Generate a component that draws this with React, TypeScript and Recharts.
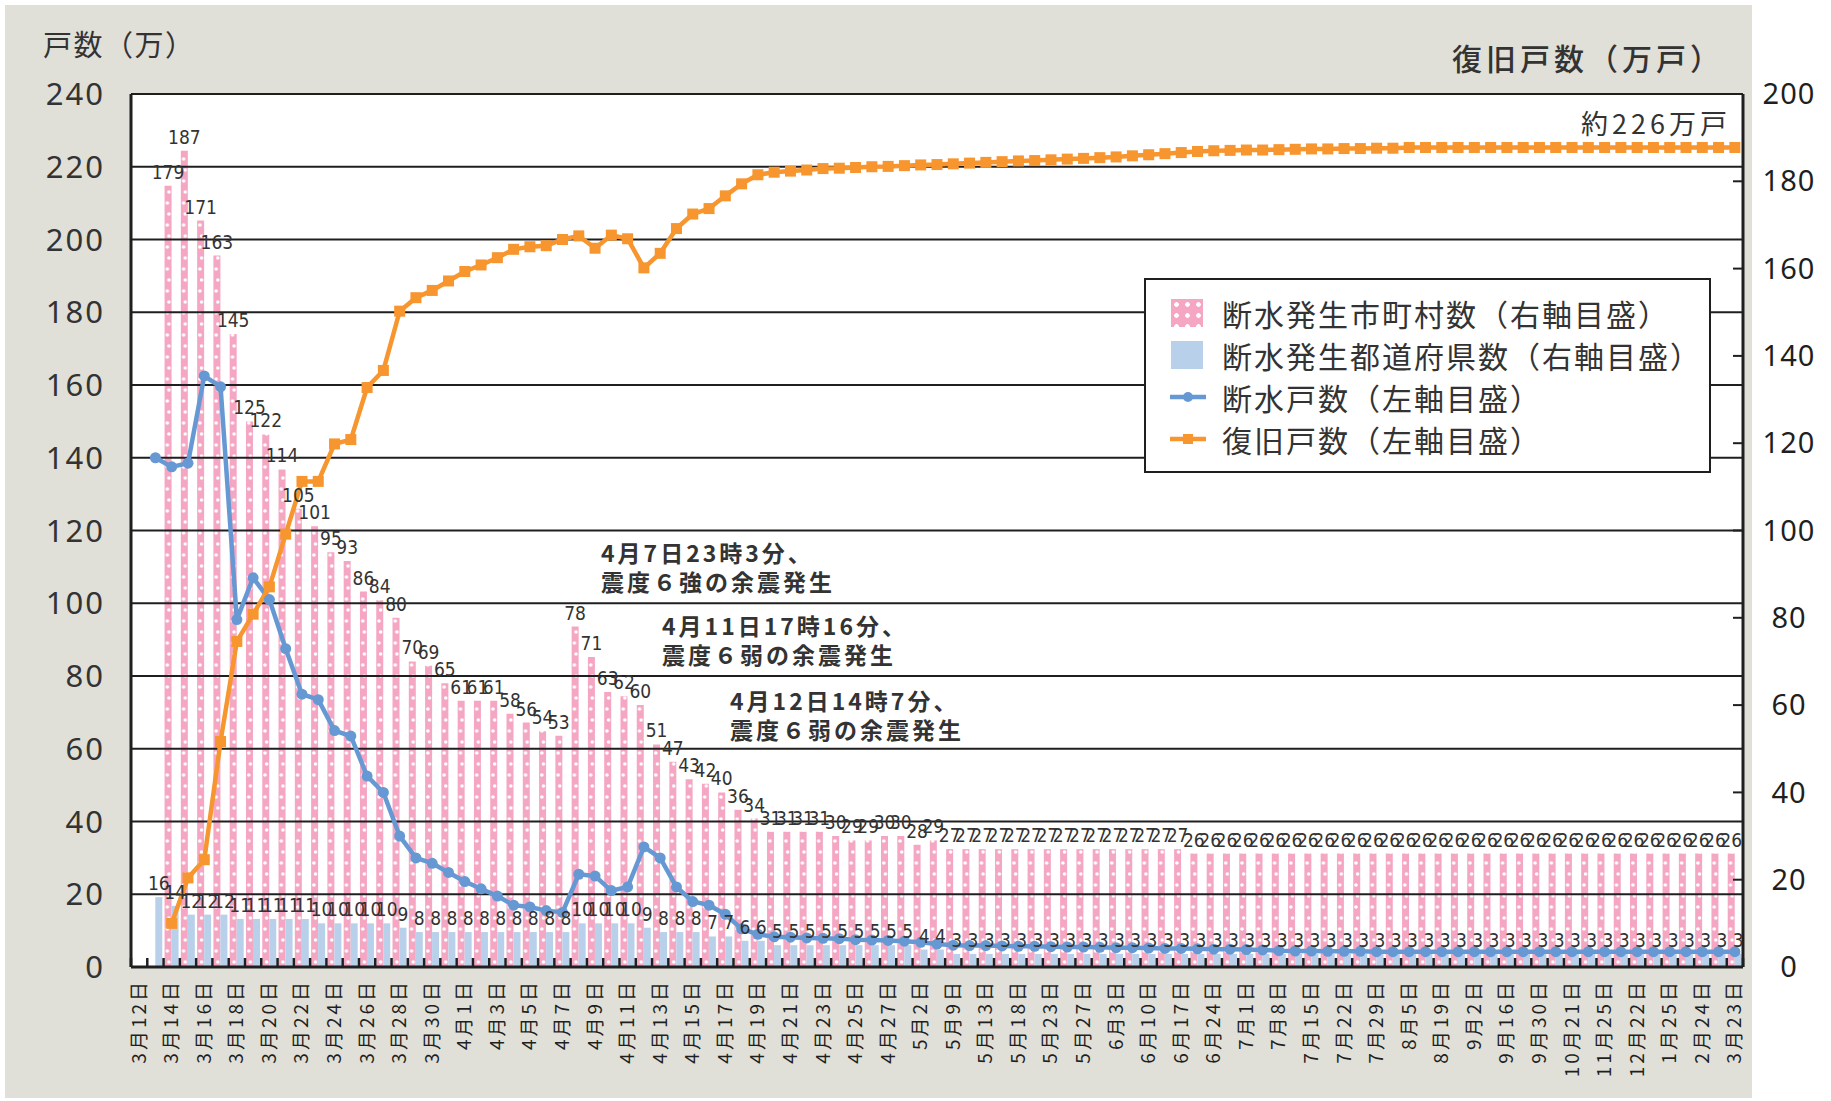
import React from "react";
import {
  ComposedChart,
  Bar,
  Line,
  XAxis,
  YAxis,
  CartesianGrid,
  LabelList,
} from "recharts";

// 99 reporting days (every other one is labelled on the axis)
const dates = [
  "3月12日", "3月13日", "3月14日", "3月15日", "3月16日", "3月17日", "3月18日", "3月19日", "3月20日", "3月21日",
  "3月22日", "3月23日", "3月24日", "3月25日", "3月26日", "3月27日", "3月28日", "3月29日", "3月30日", "3月31日",
  "4月1日", "4月2日", "4月3日", "4月4日", "4月5日", "4月6日", "4月7日", "4月8日", "4月9日", "4月10日",
  "4月11日", "4月12日", "4月13日", "4月14日", "4月15日", "4月16日", "4月17日", "4月18日", "4月19日", "4月20日",
  "4月21日", "4月22日", "4月23日", "4月24日", "4月25日", "4月26日", "4月27日", "4月28日", "5月2日", "5月6日",
  "5月9日", "5月11日", "5月13日", "5月16日", "5月18日", "5月20日", "5月23日", "5月25日", "5月27日", "5月31日",
  "6月3日", "6月7日", "6月10日", "6月14日", "6月17日", "6月21日", "6月24日", "6月28日", "7月1日", "7月5日",
  "7月8日", "7月12日", "7月15日", "7月19日", "7月22日", "7月26日", "7月29日", "8月2日", "8月5日", "8月12日",
  "8月19日", "8月26日", "9月2日", "9月9日", "9月16日", "9月22日", "9月30日", "10月14日", "10月21日", "11月4日",
  "11月25日", "12月9日", "12月22日", "1月10日", "1月25日", "2月8日", "2月24日", "3月9日", "3月23日",
];

// 断水発生市町村数 (right axis)
const townCounts = [
  null, null, 179, 187, 171, 163, 145, 125, 122, 114,
  105, 101, 95, 93, 86, 84, 80, 70, 69, 65,
  61, 61, 61, 58, 56, 54, 53, 78, 71, 63,
  62, 60, 51, 47, 43, 42, 40, 36, 34, 31,
  31, 31, 31, 30, 29, 29, 30, 30, 28, 29,
  27, 27, 27, 27, 27, 27, 27, 27, 27, 27,
  27, 27, 27, 27, 27, 26, 26, 26, 26, 26,
  26, 26, 26, 26, 26, 26, 26, 26, 26, 26,
  26, 26, 26, 26, 26, 26, 26, 26, 26, 26,
  26, 26, 26, 26, 26, 26, 26, 26, 26,
];

// 断水発生都道府県数 (right axis)
const prefCounts = [
  null, 16, 14, 12, 12, 12, 11, 11, 11, 11,
  11, 10, 10, 10, 10, 10, 9, 8, 8, 8,
  8, 8, 8, 8, 8, 8, 8, 10, 10, 10,
  10, 9, 8, 8, 8, 7, 7, 6, 6, 5,
  5, 5, 5, 5, 5, 5, 5, 5, 4, 4,
  3, 3, 3, 3, 3, 3, 3, 3, 3, 3,
  3, 3, 3, 3, 3, 3, 3, 3, 3, 3,
  3, 3, 3, 3, 3, 3, 3, 3, 3, 3,
  3, 3, 3, 3, 3, 3, 3, 3, 3, 3,
  3, 3, 3, 3, 3, 3, 3, 3, 3,
];

// 断水戸数 (万戸, left axis)
const outageHouseholds = [
  null, 140, 137.5, 138.5, 162.5, 159.5, 95.5, 107, 101, 87.5,
  75, 73.5, 65, 63.5, 52.5, 48, 36, 30, 28.5, 26,
  23.5, 21.5, 19.5, 17, 16.5, 15.5, 15, 25.5, 25, 21,
  22, 33, 30, 22, 18, 17, 14.5, 10.5, 9, 8.3,
  8.2, 8, 7.9, 7.8, 7.5, 7.4, 7.3, 7.1, 6.8, 6.3,
  6, 5.9, 5.9, 5.8, 5.7, 5.7, 5.6, 5.5, 5.5, 5.4,
  5.3, 5.3, 5.2, 5.1, 5.1, 5, 4.9, 4.9, 4.8, 4.7,
  4.5, 4.4, 4.4, 4.3, 4.3, 4.3, 4.2, 4.2, 4.2, 4.2,
  4.2, 4.2, 4.2, 4.2, 4.2, 4.2, 4.2, 4.2, 4.2, 4.2,
  4.2, 4.2, 4.2, 4.2, 4.2, 4.2, 4.2, 4.2, 4.2,
];

// 復旧戸数 (万戸, left axis)
const restoredHouseholds = [
  null, null, 12, 24.5, 29.5, 62, 89.5, 97, 104.5, 119,
  133.5, 133.5, 143.8, 145, 159.3, 164, 180.3, 184, 186, 188.6,
  191.2, 193, 195, 197.3, 198, 198.3, 200, 201, 197.6, 201.2,
  200.2, 192.2, 196.2, 203, 207, 208.5, 212, 215.3, 217.8, 218.5,
  218.8, 219.1, 219.5, 219.6, 219.8, 220, 220.1, 220.3, 220.5, 220.6,
  220.8, 221, 221.2, 221.4, 221.6, 221.7, 221.9, 222.1, 222.3, 222.5,
  222.7, 223, 223.3, 223.6, 223.9, 224.2, 224.4, 224.5, 224.6, 224.6,
  224.7, 224.8, 224.9, 224.9, 225, 225, 225.1, 225.1, 225.3, 225.3,
  225.3, 225.3, 225.3, 225.3, 225.3, 225.3, 225.3, 225.3, 225.3, 225.3,
  225.3, 225.3, 225.3, 225.3, 225.3, 225.3, 225.3, 225.3, 225.3,
];

const leftTicks = [0, 20, 40, 60, 80, 100, 120, 140, 160, 180, 200, 220, 240];
const rightTicks = [0, 20, 40, 60, 80, 100, 120, 140, 160, 180, 200];

const annotations = [
  { x: 601, y: 552, text: "4月7日23時3分、" },
  { x: 601, y: 581, text: "震度６強の余震発生" },
  { x: 662, y: 625, text: "4月11日17時16分、" },
  { x: 662, y: 654, text: "震度６弱の余震発生" },
  { x: 730, y: 700, text: "4月12日14時7分、" },
  { x: 730, y: 729, text: "震度６弱の余震発生" },
];

const W = 1831;
const H = 1101;
const PLOT_LEFT = 131;
const PLOT_TOP = 94;
const PLOT_RIGHT = 1743;
const PLOT_BOTTOM = 967;
const CAT_W = (PLOT_RIGHT - PLOT_LEFT) / dates.length;

const PINK = "#f5a6c2";
const BLUE_BAR = "#b9d0ea";
const BLUE_LINE = "#6699d3";
const ORANGE = "#f7952e";
const INK = "#1f1f1f";
const TEXT = "#333";
const JP = '"Noto Sans CJK JP", "Noto Sans", sans-serif';
const NUM = '"Noto Sans", "Noto Sans CJK JP", sans-serif';
const NARROW = '"Liberation Sans Narrow", "DejaVu Sans Condensed", "Noto Sans", sans-serif';

const rows = dates.map((date, i) => ({
  date,
  towns: townCounts[i],
  prefs: prefCounts[i],
  outage: outageHouseholds[i],
  restored: restoredHouseholds[i],
}));

function DateTick(props: any) {
  const { x, y, payload } = props;
  const half = CAT_W / 2;
  return (
    <g>
      <line x1={x - half} x2={x - half} y1={y} y2={y - 9} stroke={INK} strokeWidth={2.5} />
      <line x1={x + half} x2={x + half} y1={y} y2={y - 9} stroke={INK} strokeWidth={2.5} />
      <text
        transform={`translate(${x + 6.5},${y + 12}) rotate(-90)`}
        textAnchor="end"
        fontSize={19}
        letterSpacing={3}
        fill={INK}
        fontFamily={JP}
      >
        {payload.value}
      </text>
    </g>
  );
}

function RightTick(props: any) {
  const { x, y, payload } = props;
  return (
    <g>
      <line x1={x - 10} x2={x} y1={y} y2={y} stroke={INK} strokeWidth={2} />
      <text
        x={x + 46}
        y={y}
        dy="0.35em"
        textAnchor="middle"
        fontSize={29}
        letterSpacing={1}
        fill={INK}
        fontFamily={NUM}
      >
        {payload.value}
      </text>
    </g>
  );
}

function SquareDot(props: any) {
  const { cx, cy, index } = props;
  if (cx == null || cy == null) return <g key={`sq-${index}`} />;
  return <rect key={`sq-${index}`} x={cx - 5.5} y={cy - 5.5} width={11} height={11} fill={ORANGE} />;
}

function Legend() {
  const rowsLegend = [
    { kind: "dots", label: "断水発生市町村数（右軸目盛）" },
    { kind: "box", label: "断水発生都道府県数（右軸目盛）" },
    { kind: "circle", label: "断水戸数（左軸目盛）" },
    { kind: "square", label: "復旧戸数（左軸目盛）" },
  ];
  return (
    <div
      style={{
        position: "absolute",
        left: 1144,
        top: 278,
        width: 563,
        height: 191,
        background: "#fff",
        border: `2px solid ${INK}`,
      }}
    >
      {rowsLegend.map((r, i) => (
        <div
          key={r.label}
          style={{ position: "absolute", left: 0, top: 33 + i * 42 - 16, height: 32, width: "100%" }}
        >
          {r.kind === "dots" && (
            <div
              style={{
                position: "absolute",
                left: 25,
                top: 2,
                width: 32,
                height: 28,
                background: `radial-gradient(circle, #fff 2px, transparent 2.6px) 0 0 / 11px 11px, ${PINK}`,
              }}
            />
          )}
          {r.kind === "box" && (
            <div style={{ position: "absolute", left: 25, top: 2, width: 32, height: 28, background: BLUE_BAR }} />
          )}
          {(r.kind === "circle" || r.kind === "square") && (
            <svg style={{ position: "absolute", left: 22, top: 0 }} width={40} height={32}>
              <line x1={2} x2={38} y1={16} y2={16} stroke={r.kind === "circle" ? BLUE_LINE : ORANGE} strokeWidth={4.5} />
              {r.kind === "circle" ? (
                <circle cx={20} cy={16} r={5} fill={BLUE_LINE} />
              ) : (
                <rect x={15} y={11} width={10} height={10} fill={ORANGE} />
              )}
            </svg>
          )}
          <div
            style={{
              position: "absolute",
              left: 76,
              top: 1,
              fontSize: 30,
              lineHeight: "30px",
              fontFamily: JP,
              color: TEXT,
              whiteSpace: "nowrap",
              letterSpacing: 2,
            }}
          >
            {r.label}
          </div>
        </div>
      ))}
    </div>
  );
}

function Txt(props: {
  x: number;
  y: number;
  size: number;
  text: string;
  weight?: number;
  spacing?: number;
  anchor?: "left" | "right";
}) {
  const { x, y, size, text, weight = 400, spacing = 0, anchor = "left" } = props;
  const style: React.CSSProperties = {
    position: "absolute",
    top: y - size / 2,
    fontSize: size,
    lineHeight: `${size}px`,
    fontFamily: JP,
    fontWeight: weight,
    letterSpacing: spacing,
    color: TEXT,
    whiteSpace: "nowrap",
  };
  if (anchor === "left") style.left = x;
  else style.right = W - x - spacing;
  return <div style={style}>{text}</div>;
}

export default function App() {
  return (
    <div style={{ position: "absolute", left: 0, top: 0, width: W, height: H, background: "#fff", overflow: "hidden" }}>
      <div style={{ position: "absolute", left: 5, top: 5, width: 1747, height: 1093, background: "#e0e0d8" }} />
      <div
        style={{
          position: "absolute",
          left: PLOT_LEFT,
          top: PLOT_TOP,
          width: PLOT_RIGHT - PLOT_LEFT,
          height: PLOT_BOTTOM - PLOT_TOP,
          background: "#fff",
        }}
      />
      <div style={{ position: "absolute", left: 0, top: 0 }}>
        <ComposedChart
          width={W}
          height={H}
          data={rows}
          margin={{ top: PLOT_TOP, right: 8, left: 6, bottom: 14 }}
          barCategoryGap={1}
          barGap={0}
        >
          <defs>
            <pattern id="townDots" patternUnits="userSpaceOnUse" x={PLOT_LEFT} y={0} width={CAT_W} height={22}>
              <rect width={CAT_W} height={22} fill={PINK} />
              <circle cx={3.8} cy={5} r={1.8} fill="#fff" />
              <circle cx={5.4} cy={16} r={1.8} fill="#fff" />
            </pattern>
          </defs>
          <XAxis
            dataKey="date"
            interval={1}
            height={120}
            tickSize={0}
            tickMargin={0}
            tickLine={false}
            axisLine={{ stroke: INK, strokeWidth: 3 }}
            tick={<DateTick />}
          />
          <YAxis
            yAxisId="left"
            domain={[0, 240]}
            ticks={leftTicks}
            width={125}
            tickSize={0}
            tickMargin={26}
            tickLine={false}
            axisLine={{ stroke: INK, strokeWidth: 3 }}
            tick={{ fontSize: 31, fill: TEXT, fontFamily: NUM, letterSpacing: 2 }}
          />
          <YAxis
            yAxisId="right"
            orientation="right"
            domain={[0, 200]}
            ticks={rightTicks}
            width={80}
            tickSize={0}
            tickMargin={0}
            tickLine={false}
            axisLine={{ stroke: INK, strokeWidth: 3 }}
            tick={<RightTick />}
          />
          <CartesianGrid
            yAxisId="left"
            vertical={false}
            stroke={INK}
            strokeWidth={2}
            strokeOpacity={1}
            zIndex={350}
          />
          <Bar yAxisId="right" dataKey="towns" fill="url(#townDots)" isAnimationActive={false}>
            <LabelList
              dataKey="towns"
              position="top"
              offset={7}
              style={{ fontSize: 19, fill: TEXT, fontFamily: NARROW }}
            />
          </Bar>
          <Bar yAxisId="right" dataKey="prefs" fill={BLUE_BAR} isAnimationActive={false}>
            <LabelList
              dataKey="prefs"
              position="top"
              offset={7}
              style={{ fontSize: 19, fill: TEXT, fontFamily: NARROW }}
            />
          </Bar>
          <Line
            yAxisId="left"
            dataKey="outage"
            stroke={BLUE_LINE}
            strokeWidth={4.5}
            dot={{ r: 5.5, fill: BLUE_LINE, stroke: "none" }}
            isAnimationActive={false}
          />
          <Line
            yAxisId="left"
            dataKey="restored"
            stroke={ORANGE}
            strokeWidth={4.5}
            dot={SquareDot}
            isAnimationActive={false}
          />
        </ComposedChart>
      </div>

      <Txt x={43} y={43} size={29} spacing={1.5} text="戸数（万）" />
      <Txt x={1452} y={57} size={30} weight={500} spacing={4} text="復旧戸数（万戸）" />
      <Txt x={1727} y={122} size={27} spacing={4} anchor="right" text="約226万戸" />
      {annotations.map((a) => (
        <Txt key={a.text + a.y} x={a.x} y={a.y} size={23} weight={700} spacing={3} text={a.text} />
      ))}
      <Legend />
    </div>
  );
}
